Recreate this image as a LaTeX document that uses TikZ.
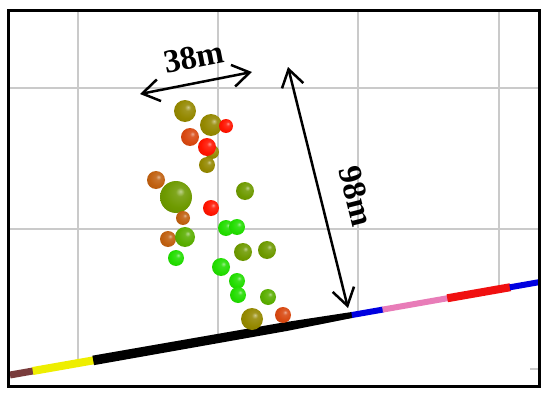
\documentclass[tikz,border=0pt]{standalone}
\usepackage{fontspec}
\setmainfont{Liberation Serif}
\usetikzlibrary{arrows.meta,calc}
\colorlet{sphcol}{red}
\pgfdeclareradialshading[sphcol]{sph}{\pgfqpoint{7bp}{9bp}}{%
  color(0bp)=(sphcol!45!white);
  color(7bp)=(sphcol!88!white);
  color(22bp)=(sphcol);
  color(42bp)=(sphcol!88!black);
  color(60bp)=(sphcol!75!black)}
\newcommand\sph[4]{\colorlet{sphcol}{#4}\shade[shading=sph] (#1,#2) circle[radius=#3pt];}
\definecolor{olv}{HTML}{948800}
\definecolor{rd}{HTML}{FF1400}
\definecolor{ornred}{HTML}{D84810}
\definecolor{orn}{HTML}{C06010}
\definecolor{olgreen}{HTML}{6E9A00}
\definecolor{lime}{HTML}{5AAE00}
\definecolor{brgreen}{HTML}{22DD00}
\definecolor{gridc}{HTML}{CACACA}
\definecolor{segbrown}{HTML}{7A3C3C}
\definecolor{segyellow}{HTML}{EEEE00}
\definecolor{segblue}{HTML}{0000E0}
\definecolor{segpink}{HTML}{E87CB8}
\definecolor{segred}{HTML}{F01010}
\tikzset{
  gridline/.style={draw=gridc, line width=1.5pt},
  dimarrow/.style={line width=2.5pt, {Straight Barb[length=17pt,width=22pt]}-{Straight Barb[length=17pt,width=22pt]}},
  dimlabel/.style={font=\fontsize{33}{33}\selectfont\bfseries, inner sep=0pt},
  seg/.style={line width=#1, line cap=butt}
}
\begin{document}
\begin{tikzpicture}[x=1pt,y=-1pt]
\useasboundingbox (0,0) rectangle (550,399);
\fill[white] (0,0) rectangle (550,399);
% ground line end points
\coordinate (g0) at (10,375);
\coordinate (g1) at (540,282);
% grid, hidden below ground
\begin{scope}
  \clip (9,11) -- (539,11) -- (539,282) -- (10,375) -- cycle;
  \foreach \gx in {78,218,358,499} \draw[gridline] (\gx,0) -- (\gx,399);
  \foreach \gy in {88,229} \draw[gridline] (0,\gy) -- (550,\gy);
\end{scope}
\draw[gridline] (530,369) -- (538,369);
% ground segments
\draw[seg=7pt, segbrown] ($(g0)!0!(g1)$) -- ($(g0)!0.045!(g1)$);
\draw[seg=8pt, segyellow] ($(g0)!0.043!(g1)$) -- ($(g0)!0.158!(g1)$);
\coordinate (k0) at ($(g0)!0.157!(g1)$);
\coordinate (k1) at ($(g0)!0.52!(g1)$);
\coordinate (k2) at ($(g0)!0.646!(g1)$);
\fill[black] ($(k0)!4.8pt!90:(g1)$) -- ($(k1)!4.5pt!90:(g1)$) -- ($(k2)!3pt!90:(g1)$)
  -- ($(k2)!3pt!-90:(g1)$) -- ($(k1)!4.5pt!-90:(g1)$) -- ($(k0)!4.8pt!-90:(g1)$) -- cycle;
\draw[seg=6pt, segblue] ($(g0)!0.645!(g1)$) -- ($(g0)!0.704!(g1)$);
\draw[seg=6pt, segpink] ($(g0)!0.703!(g1)$) -- ($(g0)!0.826!(g1)$);
\draw[seg=8pt, segred] ($(g0)!0.825!(g1)$) -- ($(g0)!0.944!(g1)$);
\draw[seg=6pt, segblue] ($(g0)!0.943!(g1)$) -- ($(g0)!1!(g1)$);
% spheres
\sph{212}{152}{7}{olv}
\sph{207}{165}{8}{olv}
\sph{185}{111}{11}{olv}
\sph{211}{125}{11}{olv}
\sph{226}{126}{7}{rd}
\sph{190}{137}{9}{ornred}
\sph{207}{147}{9}{rd}
\sph{156}{180}{9}{orn}
\sph{176}{197}{16}{olgreen}
\sph{183}{218}{7}{orn}
\sph{245}{191}{9}{olgreen}
\sph{211}{208}{8}{rd}
\sph{226}{228}{8}{brgreen}
\sph{237}{227}{8}{brgreen}
\sph{168}{239}{8}{orn}
\sph{185}{237}{10}{lime}
\sph{243}{252}{9}{olgreen}
\sph{267}{250}{9}{olgreen}
\sph{176}{258}{8}{brgreen}
\sph{221}{267}{9}{brgreen}
\sph{237}{281}{8}{brgreen}
\sph{238}{295}{8}{brgreen}
\sph{268}{297}{8}{lime}
\sph{252}{319}{11}{olv}
\sph{283}{315}{8}{ornred}
% dimension arrows
\coordinate (a1) at (140,94);
\coordinate (a2) at (252,72);
\draw[dimarrow] (a1) -- (a2);
\node[dimlabel, rotate=11] (l38) at (194,57) {38m};
\coordinate (b1) at (288,67);
\coordinate (b2) at (348,308);
\draw[dimarrow] (b1) -- (b2);
\node[dimlabel, rotate=-76] (l98) at (356,196) {98m};
% frame
\draw[line width=3pt] (8.5,10.5) rectangle (539,386.5);
\end{tikzpicture}
\end{document}
